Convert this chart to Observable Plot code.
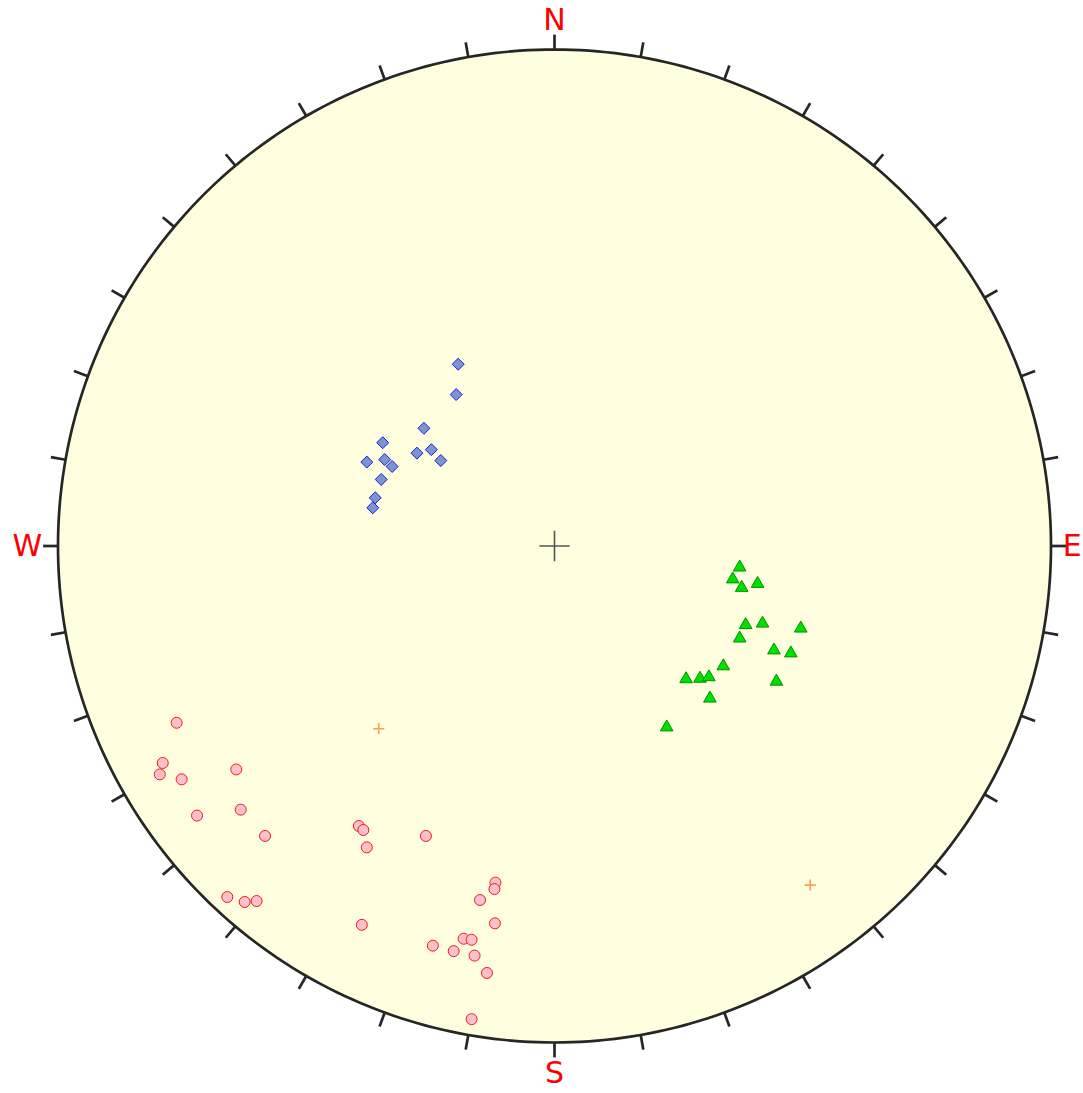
<!DOCTYPE html>
<html><head><meta charset="utf-8">
<script src="https://cdn.jsdelivr.net/npm/d3@7"></script>
<script src="https://cdn.jsdelivr.net/npm/@observablehq/plot@0.6"></script>
<style>body{margin:0;background:#fff;overflow:hidden}</style>
</head><body><div id="chart"></div>
<script>
// Stereonet coordinates, in percent of the primitive circle radius (x east, y north)
const blueX = [-19.4,-19.8,-26.3,-34.6,-27.7,-24.8,-22.9,-37.8,-34.2,-32.7,-34.9,-36.1,-36.6];
const blueY = [36.6,30.5,23.7,20.8,18.7,19.4,17.2,16.9,17.4,16.0,13.4,9.7,7.7];

const greenX = [37.3,35.9,37.7,40.9,38.5,41.9,49.6,37.3,44.2,47.6,34.0,26.5,29.3,31.1,44.7,31.3,22.6];
const greenY = [-4.3,-6.7,-8.4,-7.6,-15.9,-15.6,-16.6,-18.6,-21.0,-21.6,-24.2,-26.8,-26.7,-26.4,-27.3,-30.7,-36.5];

const redX = [-76.1,-78.9,-79.5,-75.1,-64.1,-72.0,-63.2,-58.3,-65.9,-62.4,-60.0,-39.4,-38.5,-37.8,-25.9,-11.9,-12.1,-15.0,-12.0,-38.8,-18.3,-16.7,-24.5,-20.3,-16.1,-13.6,-16.7];
const redY = [-35.6,-43.7,-46.0,-47.0,-45.0,-54.3,-53.1,-58.4,-70.7,-71.7,-71.5,-56.4,-57.2,-60.7,-58.4,-67.8,-69.1,-71.3,-76.0,-76.3,-79.1,-79.3,-80.5,-81.6,-82.5,-86.0,-95.3];

const meanX = [-35.4, 51.5];
const meanY = [-36.8, -68.3];

const dirLabels = ["N","E","S","W"];
const dirAngles = [0,90,180,270];
const dirDist = [105.8, 104.3, 106.2, 106.2];
const tickStep = 10;

const blue = blueX.map((x,i)=>({x, y: blueY[i]}));
const green = greenX.map((x,i)=>({x, y: greenY[i]}));
const red = redX.map((x,i)=>({x, y: redY[i]}));
const means = meanX.map((x,i)=>({x, y: meanY[i]}));

const rad = a => a*Math.PI/180;
const circle = d3.range(0,361,1).map(a=>({x:100*Math.sin(rad(a)), y:100*Math.cos(rad(a))}));
const ticks = d3.range(0,360,tickStep).map(a=>({
  x1:100*Math.sin(rad(a)), y1:100*Math.cos(rad(a)),
  x2:103*Math.sin(rad(a)), y2:103*Math.cos(rad(a))}));
const labels = dirLabels.map((t,i)=>({t, x:dirDist[i]*Math.sin(rad(dirAngles[i])), y:dirDist[i]*Math.cos(rad(dirAngles[i]))}));

const W=1083, H=1093, cx=554, cy=545.5, R=496.5;

const chart = Plot.plot({
  width: W, height: H, margin: 0,
  x: {domain:[-100,100], range:[cx-R, cx+R], axis:null},
  y: {domain:[-100,100], range:[cy+R, cy-R], axis:null},
  style: {background:"white", overflow:"visible"},
  marks: [
    Plot.line(circle, {x:"x", y:"y", fill:"#ffffe0", stroke:"#262626", strokeWidth:2.7}),
    Plot.link(ticks, {x1:"x1", y1:"y1", x2:"x2", y2:"y2", stroke:"#262626", strokeWidth:2.7}),
    Plot.dot([{x:0,y:0}], {x:"x", y:"y", symbol:"plus", r:9.8, stroke:"#555", strokeWidth:1.6}),
    Plot.dot(means, {x:"x", y:"y", symbol:"plus", r:3.7, stroke:"#ff7f2a", strokeOpacity:0.75, strokeWidth:1.6}),
    Plot.dot(blue, {x:"x", y:"y", symbol:"diamond2", r:5.4, fill:"#7b96cc", stroke:"#1a1aee", strokeWidth:1}),
    Plot.dot(green, {x:"x", y:"y", symbol:"triangle", r:4.7, fill:"#00e000", stroke:"#009000", strokeWidth:1}),
    Plot.dot(red, {x:"x", y:"y", r:5.5, fill:"#ffc0cb", stroke:"#ee1c1c", strokeWidth:1}),
    Plot.text(labels, {x:"x", y:"y", text:"t", fill:"#ff0000", fontSize:30, fontFamily:"DejaVu Sans", textAnchor:"middle", lineAnchor:"middle"})
  ]
});
document.getElementById("chart").appendChild(chart);
</script>
</body></html>
